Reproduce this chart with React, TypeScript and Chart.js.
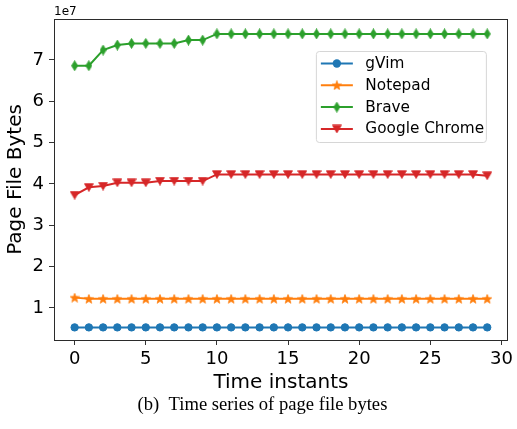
import React, { useEffect, useRef } from 'react';
import { Chart, registerables } from 'chart.js';

Chart.register(...registerables);

// ---- data ----
const timeInstants = [0, 1, 2, 3, 4, 5, 6, 7, 8, 9, 10, 11, 12, 13, 14, 15, 16, 17, 18, 19, 20, 21, 22, 23, 24, 25, 26, 27, 28, 29];
const gVim = [5.3e6, 5.3e6, 5.3e6, 5.3e6, 5.3e6, 5.3e6, 5.3e6, 5.3e6, 5.3e6, 5.3e6, 5.3e6, 5.3e6, 5.3e6, 5.3e6, 5.3e6, 5.3e6, 5.3e6, 5.3e6, 5.3e6, 5.3e6, 5.3e6, 5.3e6, 5.3e6, 5.3e6, 5.3e6, 5.3e6, 5.3e6, 5.3e6, 5.3e6, 5.3e6];
const notepad = [1.25e7, 1.22e7, 1.22e7, 1.22e7, 1.22e7, 1.22e7, 1.22e7, 1.22e7, 1.22e7, 1.22e7, 1.22e7, 1.22e7, 1.22e7, 1.22e7, 1.22e7, 1.22e7, 1.22e7, 1.22e7, 1.22e7, 1.22e7, 1.22e7, 1.22e7, 1.22e7, 1.22e7, 1.22e7, 1.22e7, 1.22e7, 1.22e7, 1.22e7, 1.22e7];
const brave = [6.86e7, 6.86e7, 7.24e7, 7.36e7, 7.4e7, 7.4e7, 7.4e7, 7.4e7, 7.48e7, 7.48e7, 7.63e7, 7.63e7, 7.63e7, 7.63e7, 7.63e7, 7.63e7, 7.63e7, 7.63e7, 7.63e7, 7.63e7, 7.63e7, 7.63e7, 7.63e7, 7.63e7, 7.63e7, 7.63e7, 7.63e7, 7.63e7, 7.63e7, 7.63e7];
const chrome = [3.73e7, 3.92e7, 3.95e7, 4.03e7, 4.03e7, 4.03e7, 4.07e7, 4.07e7, 4.07e7, 4.07e7, 4.23e7, 4.23e7, 4.23e7, 4.23e7, 4.23e7, 4.23e7, 4.23e7, 4.23e7, 4.23e7, 4.23e7, 4.23e7, 4.23e7, 4.23e7, 4.23e7, 4.23e7, 4.23e7, 4.23e7, 4.23e7, 4.23e7, 4.2e7];
const seriesNames = ['gVim', 'Notepad', 'Brave', 'Google Chrome'];
const seriesColors = ['#1f77b4', '#ff7f0e', '#2ca02c', '#d62728'];
const seriesMarkers = ['circle', 'star', 'thinDiamond', 'triangleDown'];
const xTicks = [0, 5, 10, 15, 20, 25, 30];
const yTicks = [1, 2, 3, 4, 5, 6, 7];
const yExponent = 7;
const xTitle = 'Time instants';
const yTitle = 'Page File Bytes';
const caption = '(b)\u2002Time series of page file bytes';

const FONT = "'DejaVu Sans', sans-serif";

function makeMarker(kind: string, color: string): any {
  if (kind === 'circle') return 'circle';
  const c = document.createElement('canvas');
  let w = 10, h = 10;
  if (kind === 'thinDiamond') { w = 7; h = 11; }
  if (kind === 'triangleDown') { w = 10; h = 9; }
  c.width = w; c.height = h;
  const ctx = c.getContext('2d')!;
  ctx.fillStyle = color;
  ctx.strokeStyle = color;
  ctx.lineWidth = 0.8;
  ctx.beginPath();
  if (kind === 'star') {
    const cx = w / 2, cy = h / 2 + 0.4;
    for (let i = 0; i < 10; i++) {
      const r = i % 2 === 0 ? 4.8 : 2.0;
      const a = -Math.PI / 2 + (i * Math.PI) / 5;
      const px = cx + r * Math.cos(a), py = cy + r * Math.sin(a);
      if (i === 0) ctx.moveTo(px, py); else ctx.lineTo(px, py);
    }
  } else if (kind === 'thinDiamond') {
    ctx.moveTo(w / 2, 0.5);
    ctx.lineTo(w - 0.5, h / 2);
    ctx.lineTo(w / 2, h - 0.5);
    ctx.lineTo(0.5, h / 2);
  } else {
    ctx.moveTo(0.5, 0.8);
    ctx.lineTo(w - 0.5, 0.8);
    ctx.lineTo(w / 2, h - 0.5);
  }
  ctx.closePath();
  ctx.fill();
  ctx.stroke();
  return c;
}

function drawMarker(ctx: CanvasRenderingContext2D, style: any, color: string, x: number, y: number) {
  if (style === 'circle') {
    ctx.beginPath();
    ctx.arc(x, y, 4.2, 0, Math.PI * 2);
    ctx.fillStyle = color;
    ctx.fill();
  } else {
    ctx.drawImage(style, x - style.width / 2, y - style.height / 2);
  }
}

const framePlugin = {
  id: 'frameAndExtras',
  afterDraw(chart: any) {
    const { ctx, chartArea } = chart;
    ctx.save();
    // frame
    ctx.strokeStyle = '#2b2b2b';
    ctx.lineWidth = 1;
    ctx.strokeRect(Math.round(chartArea.left) + 0.5, Math.round(chartArea.top) + 0.5,
      Math.round(chartArea.right - chartArea.left) - 1, Math.round(chartArea.bottom - chartArea.top));
    // offset text
    ctx.fillStyle = '#000';
    ctx.font = `12px ${FONT}`;
    ctx.textAlign = 'left';
    ctx.textBaseline = 'alphabetic';
    ctx.fillText('1e' + yExponent, chartArea.left, chartArea.top - 4.5);
    // legend
    const bx = chartArea.right - 191.5, by = chartArea.top + 32.5, bw = 170, bh = 91;
    const r = 3;
    ctx.beginPath();
    ctx.moveTo(bx + r, by);
    ctx.lineTo(bx + bw - r, by);
    ctx.arcTo(bx + bw, by, bx + bw, by + r, r);
    ctx.lineTo(bx + bw, by + bh - r);
    ctx.arcTo(bx + bw, by + bh, bx + bw - r, by + bh, r);
    ctx.lineTo(bx + r, by + bh);
    ctx.arcTo(bx, by + bh, bx, by + bh - r, r);
    ctx.lineTo(bx, by + r);
    ctx.arcTo(bx, by, bx + r, by, r);
    ctx.closePath();
    ctx.fillStyle = 'rgba(255,255,255,0.8)';
    ctx.fill();
    ctx.strokeStyle = '#d6d6d6';
    ctx.lineWidth = 1;
    ctx.stroke();
    chart.data.datasets.forEach((ds: any, i: number) => {
      const ry = by + 12 + i * 21.8;
      ctx.strokeStyle = ds.borderColor;
      ctx.lineWidth = 2;
      ctx.beginPath();
      ctx.moveTo(bx + 4.5, ry);
      ctx.lineTo(bx + 36.5, ry);
      ctx.stroke();
      drawMarker(ctx, ds.pointStyle, ds.borderColor, bx + 20.5, ry);
      ctx.fillStyle = '#000';
      ctx.font = `15.3px ${FONT}`;
      ctx.textBaseline = 'middle';
      ctx.fillText(ds.label, bx + 49, ry + 0.5);
    });
    ctx.restore();
  },
};

export default function App() {
  const ref = useRef<HTMLCanvasElement>(null);
  useEffect(() => {
    const seriesValues = [gVim, notepad, brave, chrome];
    const datasets = seriesNames.map((name, i) => {
      const marker = makeMarker(seriesMarkers[i], seriesColors[i]);
      return {
        label: name,
        data: timeInstants.map((t, j) => ({ x: t, y: seriesValues[i][j] })),
        borderColor: seriesColors[i],
        backgroundColor: seriesColors[i],
        borderWidth: 2,
        pointStyle: marker,
        pointRadius: marker === 'circle' ? 3.7 : 5,
        pointBorderWidth: 1,
        pointBackgroundColor: seriesColors[i],
        pointBorderColor: seriesColors[i],
        tension: 0,
        fill: false,
      };
    });
    const chart = new Chart(ref.current!, {
      type: 'line',
      data: { datasets },
      options: {
        animation: false,
        responsive: false,
        maintainAspectRatio: false,
        layout: { padding: { top: 19, right: 5, left: 0, bottom: 5 } },
        plugins: { legend: { display: false }, tooltip: { enabled: false } },
        scales: {
          x: {
            type: 'linear',
            min: -1.45,
            max: 30.45,
            afterBuildTicks: (s: any) => { s.ticks = xTicks.map((v) => ({ value: v })); },
            afterFit: (s: any) => { s.height = 55; },
            grid: { display: true, drawOnChartArea: false, drawTicks: true, tickLength: 5, color: '#333', lineWidth: 1 },
            border: { display: false },
            ticks: {
              font: { family: FONT, size: 18 }, color: '#000', padding: 4, maxRotation: 0, autoSkip: false,
              callback: (v: any) => String(v),
            },
            title: {
              display: true, text: xTitle, color: '#000',
              font: { family: FONT, size: 20, lineHeight: 1.2 }, padding: { top: 0, bottom: 0 },
            },
          },
          y: {
            type: 'linear',
            min: 0.225e7,
            max: 7.99e7,
            afterBuildTicks: (s: any) => { s.ticks = yTicks.map((v) => ({ value: v * Math.pow(10, yExponent) })); },
            afterFit: (s: any) => { s.width = 54; },
            grid: { display: true, drawOnChartArea: false, drawTicks: true, tickLength: 5, color: '#333', lineWidth: 1 },
            border: { display: false },
            ticks: {
              font: { family: FONT, size: 18 }, color: '#000', padding: 5, autoSkip: false,
              callback: (v: any) => String(Math.round(v / Math.pow(10, yExponent))),
            },
            title: {
              display: true, text: yTitle, color: '#000',
              font: { family: FONT, size: 20, lineHeight: 1.2 }, padding: { top: 4, bottom: 0 },
            },
          },
        },
      },
      plugins: [framePlugin],
    } as any);
    return () => chart.destroy();
  }, []);
  return (
    <div style={{ position: 'fixed', left: 0, top: 0, width: 517, height: 429, background: '#fff' }}>
      <canvas ref={ref} width={517} height={400} style={{ position: 'absolute', left: 0, top: 0 }} />
      <div style={{
        position: 'absolute', left: 0, top: 393, width: 517, paddingLeft: 8, boxSizing: 'border-box',
        textAlign: 'center', fontFamily: "'Liberation Serif', serif", fontSize: 18.6, color: '#000', whiteSpace: 'pre',
      }}>{caption}</div>
    </div>
  );
}
